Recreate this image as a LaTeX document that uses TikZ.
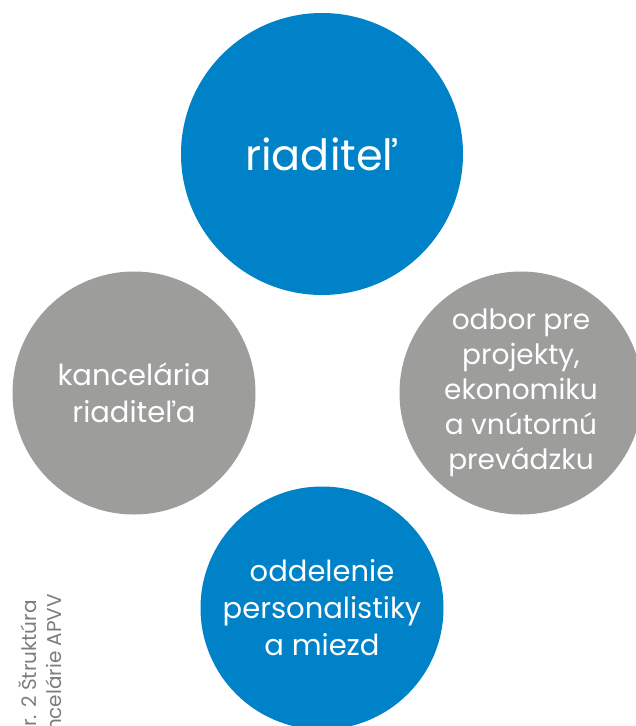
\documentclass[tikz,border=0pt]{standalone}
\usepackage{fontspec}
\setmainfont{Poppins}
\usetikzlibrary{positioning}

\definecolor{apvvblue}{RGB}{0,130,200}
\definecolor{apvvgray}{RGB}{157,157,156}
\definecolor{captiongray}{RGB}{125,125,125}

\begin{document}
\begin{tikzpicture}[x=1pt, y=1pt, on grid,
    bossnode/.style = {circle, fill=apvvblue, text=white, align=center, inner sep=0pt},
    unitnode/.style = {circle, fill=apvvgray, text=white, align=center, inner sep=0pt},
    smallunit/.style = {circle, fill=apvvblue, text=white, align=center, inner sep=0pt},
    captiontext/.style = {text=captiongray, align=left, inner sep=0pt}]

    \useasboundingbox (0,0) rectangle (636,-726);

    \node[bossnode, minimum size=282pt, font=\fontsize{43}{48}\selectfont] (riaditel) at (322,-154)
        {riaditeľ};
    \node[unitnode, minimum size=243pt, font=\fontsize{29}{37}\selectfont] (kancelaria)
        [below left=239pt and 188pt of riaditel] {kancelária\\riaditeľa};
    \node[unitnode, minimum size=243pt, font=\fontsize{28}{35}\selectfont] (odbor)
        [below right=239pt and 199pt of riaditel] {odbor pre\\projekty,\\ekonomiku\\a vnútornú\\prevádzku};
    \node[smallunit, minimum size=243pt, font=\fontsize{29}{37}\selectfont] (oddelenie)
        [below=454pt of riaditel] {oddelenie\\personalistiky\\a miezd};

    % popis obrazku
    \node[captiontext, rotate=90, anchor=north west, font=\fontsize{20}{25}\selectfont] (popis)
        at (18,-756) {Obr. 2 Štruktúra\\kancelárie APVV};

\end{tikzpicture}
\end{document}
